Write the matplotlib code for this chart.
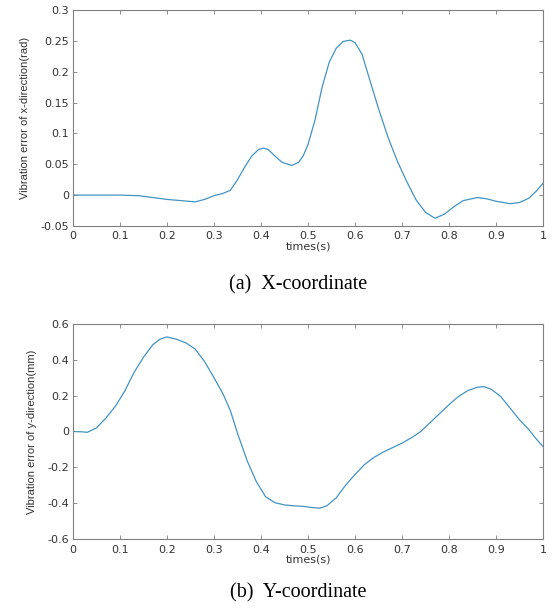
import numpy as np
import matplotlib
matplotlib.use("Agg")
import matplotlib.pyplot as plt

# x-direction vibration error (rad)
t_x = [0.00, 0.05, 0.10, 0.14, 0.17, 0.20, 0.23, 0.26, 0.28, 0.30, 0.32, 0.335,
       0.35, 0.365, 0.38, 0.395, 0.405, 0.415, 0.43, 0.445, 0.465, 0.48, 0.49,
       0.50, 0.515, 0.53, 0.545, 0.56, 0.575, 0.59, 0.60, 0.615, 0.63, 0.65,
       0.67, 0.69, 0.71, 0.73, 0.75, 0.77, 0.79, 0.81, 0.83, 0.86, 0.88, 0.90,
       0.93, 0.95, 0.97, 0.985, 1.00]
err_x = [0.000, 0.000, 0.000, -0.001, -0.004, -0.007, -0.009, -0.011, -0.007,
         -0.001, 0.003, 0.008, 0.025, 0.045, 0.063, 0.074, 0.076, 0.074, 0.063,
         0.053, 0.048, 0.053, 0.064, 0.082, 0.122, 0.175, 0.215, 0.238, 0.249,
         0.251, 0.247, 0.228, 0.190, 0.140, 0.094, 0.055, 0.022, -0.008,
         -0.028, -0.0375, -0.031, -0.019, -0.009, -0.004, -0.006, -0.010,
         -0.014, -0.012, -0.005, 0.006, 0.019]

# y-direction vibration error (mm)
t_y = [0.00, 0.02, 0.03, 0.05, 0.07, 0.09, 0.11, 0.13, 0.15, 0.17, 0.185,
       0.20, 0.22, 0.24, 0.26, 0.28, 0.30, 0.32, 0.335, 0.35, 0.37, 0.39,
       0.41, 0.43, 0.45, 0.47, 0.49, 0.51, 0.525, 0.54, 0.56, 0.58, 0.60,
       0.62, 0.64, 0.66, 0.68, 0.70, 0.72, 0.74, 0.76, 0.78, 0.80, 0.82,
       0.84, 0.86, 0.875, 0.89, 0.91, 0.93, 0.95, 0.97, 0.985, 1.00]
err_y = [0.000, -0.002, -0.005, 0.020, 0.075, 0.140, 0.225, 0.330, 0.415,
         0.485, 0.515, 0.528, 0.515, 0.495, 0.460, 0.390, 0.300, 0.205, 0.115,
         -0.010, -0.160, -0.280, -0.365, -0.398, -0.410, -0.415, -0.418,
         -0.425, -0.428, -0.415, -0.370, -0.300, -0.240, -0.185, -0.145,
         -0.115, -0.090, -0.065, -0.035, 0.000, 0.050, 0.100, 0.150, 0.195,
         0.228, 0.247, 0.250, 0.235, 0.195, 0.130, 0.065, 0.010, -0.040, -0.084]

x_ticks = [0, 0.1, 0.2, 0.3, 0.4, 0.5, 0.6, 0.7, 0.8, 0.9, 1]
x_ticklabels = ["0", "0.1", "0.2", "0.3", "0.4", "0.5", "0.6", "0.7", "0.8", "0.9", "1"]
yx_ticks = [-0.05, 0, 0.05, 0.1, 0.15, 0.2, 0.25, 0.3]
yx_ticklabels = ["-0.05", "0", "0.05", "0.1", "0.15", "0.2", "0.25", "0.3"]
yy_ticks = [-0.6, -0.4, -0.2, 0, 0.2, 0.4, 0.6]
yy_ticklabels = ["-0.6", "-0.4", "-0.2", "0", "0.2", "0.4", "0.6"]

LINE = "#4393c3"
AXC = "#808080"
TXT = "#333333"
TICKF = ["DejaVu Sans"]
NARROW = ["Liberation Sans Narrow", "Liberation Sans", "DejaVu Sans"]
SERIF = ["Liberation Serif", "DejaVu Serif"]

fig = plt.figure(figsize=(5.53, 6.09), dpi=100)


def style(ax, yticks, ylabels, ylim, ylabel, label_x):
    ax.set_xlim(0, 1)
    ax.set_ylim(*ylim)
    ax.set_xticks(x_ticks)
    ax.set_xticklabels(x_ticklabels, family=TICKF, fontsize=8, color=TXT)
    ax.set_yticks(yticks)
    ax.set_yticklabels(ylabels, family=TICKF, fontsize=8, color=TXT)
    ax.tick_params(direction="in", top=True, right=True, length=3,
                   width=0.6, color=AXC)
    ax.tick_params(axis="x", pad=4)
    ax.tick_params(axis="y", pad=3)
    for s in ax.spines.values():
        s.set_color(AXC)
        s.set_linewidth(0.8)
    ax.set_xlabel("times(s)", family=TICKF, fontsize=8, color=TXT, labelpad=0)
    ax.set_ylabel(ylabel, family=NARROW, fontsize=8, color=TXT)
    ax.yaxis.set_label_coords(label_x, 0.5)


ax1 = fig.add_axes([0.132, 0.629, 0.850, 0.3547])
ax1.plot(t_x, err_x, color=LINE, linewidth=0.9)
style(ax1, yx_ticks, yx_ticklabels, (-0.05, 0.3),
      "Vibration error of x-direction(rad)", -0.0915)

ax2 = fig.add_axes([0.132, 0.115, 0.850, 0.353])
ax2.plot(t_y, err_y, color=LINE, linewidth=0.9)
style(ax2, yy_ticks, yy_ticklabels, (-0.6, 0.6),
      "Vibration error of y-direction(mm)", -0.0766)

fig.text(0.54, 0.532, "(a)  X-coordinate", family=SERIF, fontsize=14.5,
         ha="center", va="center", color="black")
fig.text(0.54, 0.026, "(b)  Y-coordinate", family=SERIF, fontsize=14.5,
         ha="center", va="center", color="black")

fig.savefig("out.png", dpi=100)
